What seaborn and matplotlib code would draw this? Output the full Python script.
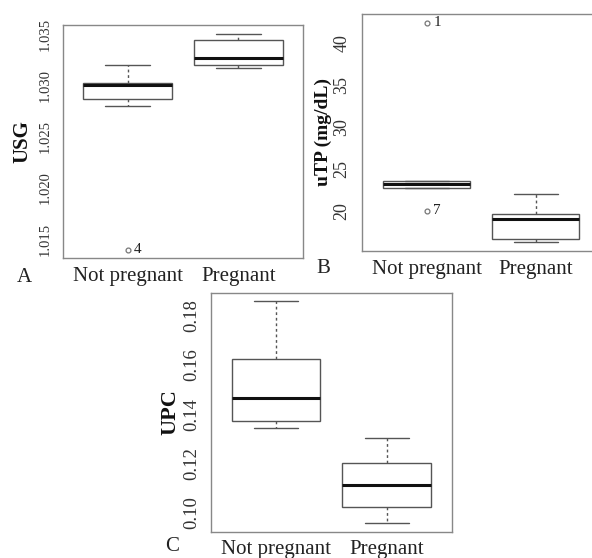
import matplotlib
matplotlib.use("Agg")
import matplotlib.pyplot as plt
import seaborn as sns
import numpy as np
import pandas as pd

# observations reconstructed from the box plots (estimated)
groups = ["Not pregnant", "Pregnant"]

usg_np = [1.0140, 1.0280, 1.0287, 1.0292, 1.0300, 1.0301, 1.0302, 1.0310, 1.0320]
usg_p = [1.03169, 1.03198, 1.03263, 1.03444, 1.0350]

utp_np = [20.0, 22.67, 22.67, 22.9, 23.14, 23.3, 23.54, 23.54, 42.4]
utp_p = [16.24, 16.6, 19.0, 19.6, 21.95]

upc_np = [0.1342, 0.13705, 0.14667, 0.16266, 0.1860]
upc_p = [0.0957, 0.10209, 0.11117, 0.11997, 0.1303]

# outlier ids printed beside the points
usg_out = [("4", 1.0140)]
utp_out = [("1", 42.4), ("7", 20.0)]

usg_ticks = [1.015, 1.020, 1.025, 1.030, 1.035]
utp_ticks = [20, 25, 30, 35, 40]
upc_ticks = [0.10, 0.12, 0.14, 0.16, 0.18]


def long_df(a, b, name):
    return pd.DataFrame({"group": [groups[0]] * len(a) + [groups[1]] * len(b),
                         name: list(a) + list(b)})


sns.set_style("white")
plt.rcParams['font.family'] = ['Liberation Serif', 'DejaVu Serif']

fig = plt.figure(figsize=(5.92, 5.58), dpi=100)
axA = fig.add_axes([0.1064, 0.5376, 0.4054, 0.4176])
axB = fig.add_axes([0.611, 0.5507, 0.4008, 0.4242])
axC = fig.add_axes([0.3564, 0.0466, 0.4066, 0.4289])

gray = "#555555"
box_kw = dict(x="group", y="v", width=0.8, color="white", linecolor=gray,
              linewidth=1.0, whis=1.5, fliersize=0,
              whiskerprops={"linestyle": (0, (2, 2))},
              medianprops={"color": "#111111", "linewidth": 2.2})

# axes, data, y label, label size, label pad, ticks, format, tick size, ylim, xlim, outliers, letter, letter y
panels = [
    (axA, usg_np, usg_p, "USG", 15, 5, usg_ticks, "%.3f", 10.5, (1.01317, 1.03588), (-0.583, 1.583), usg_out, "A", -0.085),
    (axB, utp_np, utp_p, "uTP (mg/dL)", 14, 1.5, utp_ticks, "%d", 13, (15.24, 43.42), (-0.596, 1.58), utp_out, "B", -0.075),
    (axC, upc_np, upc_p, "UPC", 16, 1.5, upc_ticks, "%.2f", 13.5, (0.09206, 0.18949), (-0.587, 1.587), [], "C", -0.062),
]

for ax, a, b, lab, lsize, lpad, ticks, fmt, tsize, ylim, xlim, outs, letter, ly in panels:
    df = long_df(a, b, "v")
    sns.boxplot(data=df, ax=ax, **box_kw)
    for txt, val in outs:
        ax.plot(0, val, "o", ms=3.5, mfc="none", mec="#777777", mew=0.9)
        ax.text(0.06, val, txt, fontsize=11, va="center", ha="left", color="#222222")
    ax.set_ylim(*ylim)
    ax.set_xlim(*xlim)
    ax.set_yticks(ticks)
    ax.set_yticklabels([fmt % t for t in ticks], rotation=90, va="center", fontsize=tsize, color="#333333")
    ax.set_xticks([0, 1])
    ax.set_xticklabels(groups, fontsize=15, color="#222222")
    ax.set_xlabel("")
    ax.set_ylabel(lab, fontsize=lsize, fontweight="bold", color="#111111", labelpad=lpad)
    ax.tick_params(axis="both", length=5, width=0.8, color="#777777", pad=3)
    ax.tick_params(axis="x", pad=1.5)
    for s in ax.spines.values():
        s.set_color("#888888")
        s.set_linewidth(1.0)
    ax.text(-0.16, ly, letter, transform=ax.transAxes,
            fontsize=15, ha="center", va="center", color="#222222")

axC.tick_params(axis="x", pad=0.5)

fig.savefig("out.png", dpi=100)
